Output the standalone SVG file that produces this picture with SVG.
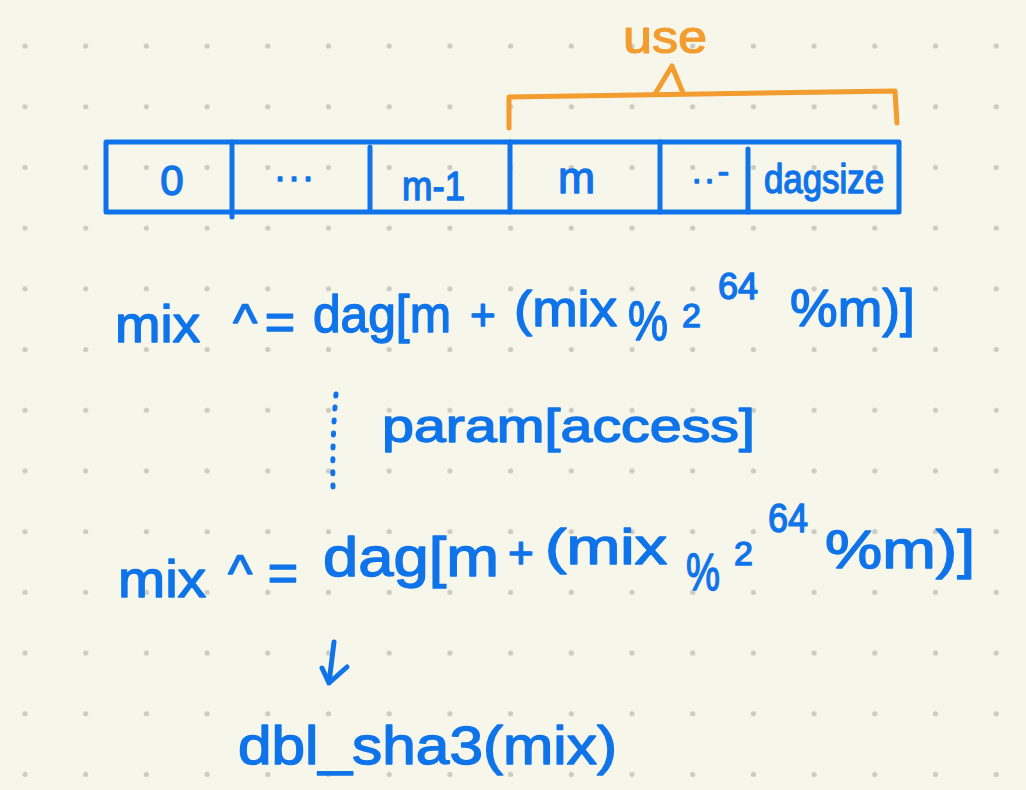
<svg xmlns="http://www.w3.org/2000/svg" width="1026" height="790" viewBox="0 0 1026 790">
<style>
.t{font-family:"Liberation Sans",Arial,sans-serif;fill:#0f74ea;stroke:#0f74ea;stroke-width:1.4;stroke-linejoin:round}
.o{font-family:"Liberation Sans",Arial,sans-serif;fill:#f39c2f;stroke:#f39c2f;stroke-width:1.2;stroke-linejoin:round}
.b{fill:none;stroke:#0f74ea;stroke-width:5;stroke-linecap:round;stroke-linejoin:round}
.ob{fill:none;stroke:#f39c2f;stroke-width:5;stroke-linecap:round;stroke-linejoin:round}
</style>
<defs>
<pattern id="dots" patternUnits="userSpaceOnUse" x="-5.35" y="15.65" width="60.7" height="60.7">
<circle cx="30.35" cy="30.35" r="2.6" fill="#cbcbc3"/>
</pattern>
</defs>
<rect width="1026" height="790" fill="#f7f6ea"/>
<rect width="1026" height="790" fill="url(#dots)"/>

<g id="array">
<rect class="b" x="106" y="142" width="793" height="70"/>
<path class="b" d="M232 142 L232 217 M370 147 L370 210 M510 142 L510 212 M660 142 L660 212 M748 149 L748 212"/>
<text class="t" x="172" y="195" font-size="42" text-anchor="middle">0</text>
<text class="t" x="275" y="181" font-size="36" textLength="38" lengthAdjust="spacing">...</text>
<text class="t" x="402" y="200" font-size="40" textLength="63" lengthAdjust="spacingAndGlyphs">m-1</text>
<text class="t" x="558" y="193" font-size="44" textLength="37" lengthAdjust="spacingAndGlyphs">m</text>
<text class="t" x="692" y="183" font-size="34" textLength="37" lengthAdjust="spacing">..-</text>
<text class="t" x="764" y="193" font-size="40" textLength="120" lengthAdjust="spacingAndGlyphs">dagsize</text>
</g>

<g id="use-bracket">
<path class="ob" d="M509 128 L509 97 L895 91 L897 123"/>
<path class="ob" d="M655 94 L672 66 L683 93"/>
<text class="o" x="623" y="53" font-size="46" textLength="84" lengthAdjust="spacingAndGlyphs">use</text>
</g>

<g id="formula1">
<text class="t" font-size="52">
<tspan x="115" y="342" textLength="85" lengthAdjust="spacingAndGlyphs">mix</tspan>
<tspan x="233" y="340" textLength="62" lengthAdjust="spacing">^=</tspan>
<tspan x="313" y="332" textLength="138" lengthAdjust="spacingAndGlyphs">dag[m</tspan>
<tspan x="470" y="330" font-size="44">+</tspan>
<tspan x="514" y="326" font-size="50" textLength="103" lengthAdjust="spacingAndGlyphs">(mix</tspan>
<tspan x="628" y="340" font-size="56" textLength="40" lengthAdjust="spacingAndGlyphs">%</tspan>
<tspan x="682" y="327" font-size="34">2</tspan><tspan x="718" y="299" font-size="36" textLength="40" lengthAdjust="spacingAndGlyphs">64</tspan>
<tspan x="790" y="326" font-size="52" textLength="125" lengthAdjust="spacingAndGlyphs">%m)]</tspan>
</text>
</g>

<g id="annotation">
<text class="t" x="382" y="442" font-size="46" textLength="373" lengthAdjust="spacingAndGlyphs">param[access]</text>
</g>

<g id="formula2">
<text class="t" font-size="52">
<tspan x="118" y="597" textLength="88" lengthAdjust="spacingAndGlyphs">mix</tspan>
<tspan x="228" y="591" textLength="70" lengthAdjust="spacing">^=</tspan>
<tspan x="323" y="576" font-size="56" textLength="176" lengthAdjust="spacingAndGlyphs">dag[m</tspan>
<tspan x="508" y="568" font-size="44">+</tspan>
<tspan x="545" y="564" font-size="50" textLength="122" lengthAdjust="spacingAndGlyphs">(mix</tspan>
<tspan x="686" y="590" font-size="52" textLength="34" lengthAdjust="spacingAndGlyphs">%</tspan>
<tspan x="734" y="565" font-size="34">2</tspan><tspan x="768" y="532" font-size="40" textLength="40" lengthAdjust="spacingAndGlyphs">64</tspan>
<tspan x="825" y="568" font-size="54" textLength="150" lengthAdjust="spacingAndGlyphs">%m)]</tspan>
</text>
</g>

<g id="result">
<text class="t" x="238" y="764" font-size="54" textLength="379" lengthAdjust="spacingAndGlyphs">dbl_sha3(mix)</text>
</g>

<g id="connectors">
<path class="b" d="M336 394 Q332 440 333 487" stroke-width="4" stroke-dasharray="2 11"/>
<path class="b" d="M334 642 L329 683 M322 668 L329 683 L347 667"/>
</g>
</svg>
